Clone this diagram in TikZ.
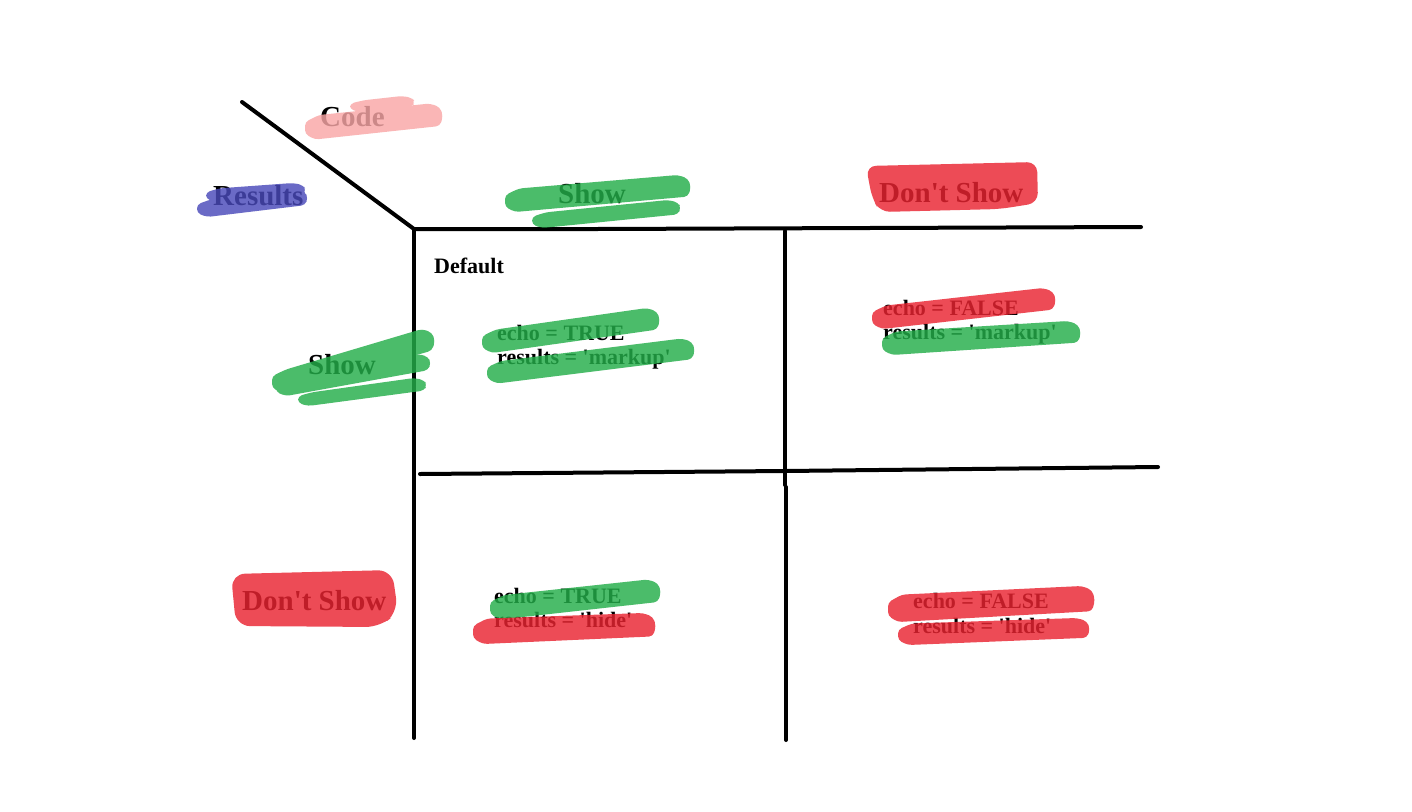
\documentclass[tikz,border=0pt]{standalone}
\usepackage{fontspec}
\setmainfont{Liberation Serif}[Ligatures=TeXOff]
\definecolor{hlgreen}{RGB}{36,174,74}
\definecolor{hlred}{RGB}{234,36,49}
\definecolor{hlblue}{RGB}{74,74,186}
\definecolor{hlpink}{RGB}{249,167,167}
\tikzset{
  gridline/.style={line width=4pt, line cap=round, black},
  biglabel/.style={anchor=base west, inner sep=0pt, font=\fontsize{29}{29}\selectfont\bfseries},
  smalllabel/.style={anchor=base west, inner sep=0pt, font=\fontsize{22}{22}\selectfont\bfseries},
  hl/.style={transparency group, opacity=0.82},
}
% brush stroke: colour, x1, y1, x2, y2, width (slightly tapered left end, blunt right end)
\newcommand\hlstroke[6]{%
  \fill[#1, rounded corners=4pt]
    (#2,#3-0.2*#6) -- (#2+14,#3-0.48*#6) -- (#4-10,#5-0.5*#6) -- (#4,#5-0.35*#6)
    -- (#4+3,#5) -- (#4,#5+0.4*#6) -- (#2+10,#3+0.5*#6) -- (#2,#3+0.28*#6) -- cycle;}
\begin{document}
\begin{tikzpicture}[x=1pt, y=-1pt]
\useasboundingbox[fill=white] (0,0) rectangle (1412,811);

% grid lines
\coordinate (d0) at (242,102);
\coordinate (o) at (414,229);
\coordinate (t1) at (597,229);
\coordinate (t2) at (1141,227);
\coordinate (l1) at (414,738);
\coordinate (m0) at (785,231);
\coordinate (m1) at (785,485);
\coordinate (m2) at (786,487);
\coordinate (m3) at (786,740);
\coordinate (h0) at (420,474);
\coordinate (h1) at (785,471);
\coordinate (h2) at (1158,467);
\draw[gridline] (d0) -- (o);
\draw[gridline] (o) -- (t1) -- (t2);
\draw[gridline] (o) -- (l1);
\draw[gridline] (m0) -- (m1);
\draw[gridline] (m2) -- (m3);
\draw[gridline] (h0) -- (h1) -- (h2);

% labels
\node[biglabel] (code) at (320,126) {Code};
\node[biglabel] (results) at (213,205) {Results};
\node[biglabel] (showtop) at (558,203) {Show};
\node[biglabel] (dstop) at (879,202) {Don't Show};
\node[biglabel] (showleft) at (308,374) {Show};
\node[biglabel] (dsleft) at (242,610) {Don't Show};
\node[smalllabel] (default) at (434,273) {Default};

\node[smalllabel] (tlecho) at (497,340) {echo = TRUE};
\node[smalllabel] (tlres) at (497,364) {results = 'markup'};
\node[smalllabel] (trecho) at (883,315) {echo = FALSE};
\node[smalllabel] (trres) at (883,339) {results = 'markup'};
\node[smalllabel] (blecho) at (494,603) {echo = TRUE};
\node[smalllabel] (blres) at (494,627) {results = 'hide'};
\node[smalllabel] (brecho) at (913,608) {echo = FALSE};
\node[smalllabel] (brres) at (913,633) {results = 'hide'};

% highlighter strokes
\begin{scope}[hl]
  \hlstroke{hlpink}{305}{127}{440}{116}{25}
  \hlstroke{hlpink}{350}{106}{412}{102}{12}
\end{scope}
\begin{scope}[hl]
  \hlstroke{hlblue}{197}{208}{305}{198}{18}
  \hlstroke{hlblue}{206}{195}{303}{190}{14}
\end{scope}
\begin{scope}[hl]
  \hlstroke{hlgreen}{505}{200}{688}{187}{24}
  \hlstroke{hlgreen}{532}{220}{678}{208}{16}
\end{scope}
\begin{scope}[hl]
  \fill[hlred, rounded corners=10pt] (866,166) -- (1037,162) -- (1038,203) -- (1000,209) -- (880,212) -- (872,198) -- cycle;
\end{scope}
\begin{scope}[hl]
  \hlstroke{hlgreen}{272}{381}{432}{341}{24}
  \hlstroke{hlgreen}{276}{387}{428}{363}{18}
  \hlstroke{hlgreen}{298}{399}{424}{385}{14}
\end{scope}
\begin{scope}[hl]
  \fill[hlred, rounded corners=14pt] (231,574) -- (392,570) -- (398,612) -- (380,627) -- (236,626) -- cycle;
\end{scope}
\begin{scope}[hl]
  \hlstroke{hlgreen}{482}{341}{657}{320}{24}
  \hlstroke{hlgreen}{487}{372}{692}{350}{23}
\end{scope}
\begin{scope}[hl]
  \hlstroke{hlred}{872}{317}{1053}{300}{24}
\end{scope}
\begin{scope}[hl]
  \hlstroke{hlgreen}{882}{343}{1078}{333}{24}
\end{scope}
\begin{scope}[hl]
  \hlstroke{hlgreen}{490}{607}{658}{592}{25}
\end{scope}
\begin{scope}[hl]
  \hlstroke{hlred}{473}{631}{653}{626}{26}
\end{scope}
\begin{scope}[hl]
  \hlstroke{hlred}{888}{608}{1092}{600}{28}
  \hlstroke{hlred}{898}{634}{1087}{629}{22}
\end{scope}
\end{tikzpicture}
\end{document}
